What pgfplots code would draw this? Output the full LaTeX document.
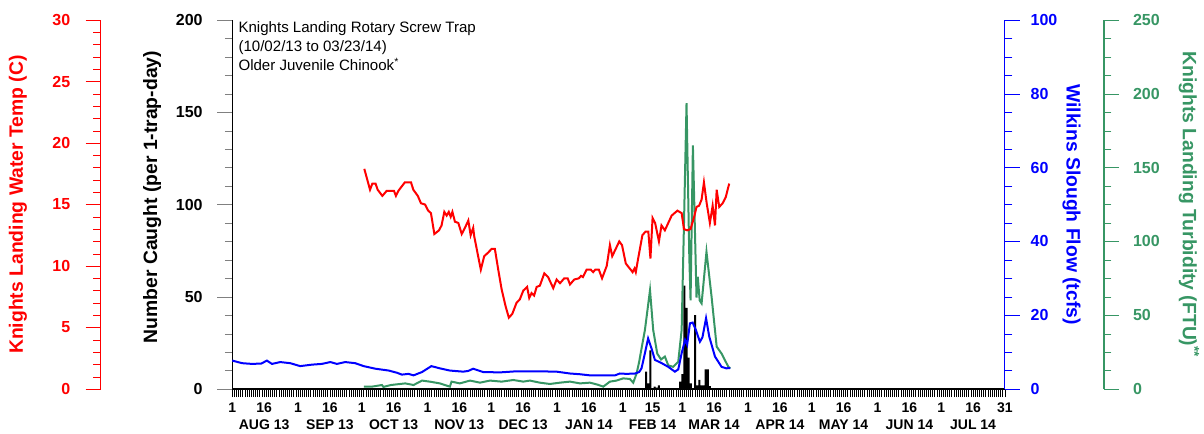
\documentclass[border=0pt]{standalone}
\usepackage{fontspec}
\setmainfont{Liberation Sans}
\usepackage{pgfplots}
\pgfplotsset{compat=1.18}
\definecolor{tred}{RGB}{255,0,0}
\definecolor{tblue}{RGB}{0,0,255}
\definecolor{tgreen}{RGB}{55,150,100}
\newcommand{\tickfont}{\fontsize{12}{14}\selectfont\bfseries}
\newcommand{\labfont}{\fontsize{14.5}{17}\selectfont\bfseries}
\begin{document}
\begin{tikzpicture}
\useasboundingbox (0,0) rectangle (903pt,324.75pt);
\pgfplotsset{
  common/.style={scale only axis, width=579.5pt, height=276.75pt,
    xmin=0, xmax=364, at={(174.2pt,33pt)}, anchor=south west,
    /pgf/number format/assume math mode=true, clip=false,
    tick align=outside, axis line style={-, line width=0.8pt},
    major tick length=11.25pt, minor tick length=5.5pt},
  scaleaxis/.style={scale only axis, width=1pt, height=276.75pt,
    xmin=0, xmax=1, hide x axis,
    /pgf/number format/assume math mode=true,
    tick align=outside, axis line style={-, line width=0.8pt},
    major tick length=11.25pt, minor tick length=5.5pt},
}
% x axis with bars
\begin{axis}[common, ymin=0, ymax=200, hide y axis, axis x line*=bottom,
  major tick length=6pt, minor tick length=6pt,
  xtick={0,15,31,46,61,76,92,107,122,137,153,168,184,198,212,227,243,258,273,288,304,319,334,349,364},
  xticklabels={1,{16\\AUG 13},1,{16\\SEP 13},1,{16\\OCT 13},1,{16\\NOV 13},1,{16\\DEC 13},1,{16\\JAN 14},1,{15\\FEB 14},1,{16\\MAR 14},1,{16\\APR 14},1,{16\\MAY 14},1,{16\\JUN 14},1,{16\\JUL 14},31},
  minor xtick={0,1,...,364},
  xticklabel style={align=center, anchor=north, font=\fontsize{10.5}{12.75}\selectfont\bfseries, yshift=-3pt, inner ysep=1pt},
  tick style={black, line width=0.6pt}]
\addplot[ybar, bar width=1.5pt, fill=black, draw=none] coordinates {
(195,9.4)(196,3)(197,21)(199,1.3)(200,0.8)(201,2)
(211,4)(212,8)(213,56)(214,44)(215,17)(216,3)(218,40)(219,2)(220,5)(221,2)(222,2)(223,10.7)(224,10.7)(225,1.5)};
\end{axis}
% black count axis
\begin{axis}[common, ymin=0, ymax=200, hide x axis, axis y line*=left,
  ytick={0,50,...,200}, minor ytick={0,10,...,200},
  yticklabel style={font=\tickfont, black, xshift=-7.5pt},
  ylabel={Number Caught (per 1-trap-day)},
  ylabel style={at={(rel axis cs:0,0.52)}, anchor=center, yshift=60pt, font=\labfont}]
\end{axis}
% green turbidity data
\begin{axis}[common, ymin=0, ymax=250, hide axis]
\addplot[tgreen, line width=1.5pt] coordinates {
(62,1.6)(65.8,1.6)(70.5,2.7)(71.2,1.4)(74.7,2.7)(81.5,3.8)(85.4,2.7)(89.4,5.7)(93,5.0)(97.8,3.8)(102.5,1.6)(103.3,5.0)(107.2,3.8)(112,5.7)(116.7,4.3)(121.4,5.7)(126.9,5.0)(132.4,6.1)(137.1,5.0)(140.2,5.7)(144.9,4.3)(149.6,3.4)(154.4,4.3)(159.1,5.0)(163.8,3.8)(168.5,4.3)(172,3)(174.8,1.6)(177.9,5.0)(181,5.7)(184.2,7.2)(187.3,6.8)(188.9,4.3)(190.5,10.6)(191.7,18.5)(192.5,25)(194.4,40)(196.8,67)(198.3,40)(200.2,24)(202,20)(203.8,22)(205.4,16)(207.7,15)(210.1,18.5)(211.7,40)(212.8,112)(214,193.6)(215.3,90)(215.9,60)(217,165)(218,105)(218.7,62)(219.3,76)(220.2,60)(221.1,58)(223.4,93)(225.8,62.5)(228.2,28.7)(230.5,24)(233.7,15)(234.6,14)};
\end{axis}
% blue flow axis + data
\begin{axis}[common, ymin=0, ymax=100, hide x axis, axis y line*=right,
  axis line style={tblue}, tick style={tblue},
  ytick={0,20,...,100}, minor ytick={0,5,...,100},
  yticklabel style={font=\tickfont, text=tblue, xshift=4.5pt},
  ylabel={Wilkins Slough Flow (tcfs)},
  ylabel style={at={(rel axis cs:1,0.5)}, anchor=center, rotate=180, yshift=50pt, font=\labfont, text=tblue}]
\addplot[tblue, line width=1.5pt] coordinates {
(0,7.7)(4.6,7.0)(9.3,6.8)(13.7,6.9)(16.3,7.7)(18.7,6.8)(22.6,7.3)(27.3,7.0)(32,6.2)(37.5,6.6)(42.2,6.8)(46.2,7.3)(49.3,6.8)(53.2,7.3)(57.9,7.0)(61.9,6.2)(67.4,5.5)(73.7,5.0)(77.6,4.4)(79.9,3.9)(83,4.1)(85.4,3.7)(89.4,4.6)(93.8,6.2)(97.8,5.6)(102.5,5.0)(108.8,4.7)(111.2,4.9)(113.5,5.5)(118.2,4.6)(126.1,4.5)(133.9,4.8)(143.4,4.8)(152.8,4.7)(159.1,4.2)(163.8,4.0)(168.5,3.7)(174.8,3.7)(180.3,3.7)(182.6,4.2)(185.8,4.1)(189.7,4.2)(191.7,4.6)(192.8,5.6)(194.4,9.7)(195.9,13.7)(197.5,11)(199.1,7.9)(202.3,7.0)(205.4,6.0)(208.5,4.7)(210.1,5.3)(211.7,9.7)(213.3,13.3)(214.3,12)(215.6,17.8)(216.9,18)(218.4,16)(220.3,12.8)(221.5,14)(223.2,19.2)(224.7,14.2)(227.4,8.8)(230.5,6.0)(232.8,5.6)(234.6,5.7)};
\end{axis}
% red temp data
\begin{axis}[common, ymin=0, ymax=30, hide axis]
\addplot[tred, line width=1.5pt] coordinates {
(62.2,17.9)(64.9,16.2)(66,16.7)(67.5,16.7)(68.5,16.2)(70.7,15.7)(72.7,16.1)(76.2,16.1)(77.1,15.7)(78.2,16.1)(81.3,16.8)(84.2,16.8)(85.3,16.2)(87.4,15.7)(88.9,15.1)(90.8,15.0)(92.3,14.5)(93.6,14.3)(95.2,12.6)(97.4,12.9)(98.6,13.3)(99.9,14.4)(101,14.1)(102,14.4)(102.9,14.0)(103.7,14.4)(104.9,13.6)(106.5,13.5)(108.1,12.6)(109.6,13.1)(111.2,13.7)(112.3,12.5)(113.5,13.1)(114,12.4)(115.6,11.0)(117.1,9.7)(118.7,10.8)(120.6,11.1)(122.2,11.4)(123.7,11.4)(125.3,9.7)(126.9,8.1)(128.8,6.7)(130.3,5.8)(131.9,6.1)(133.9,7.0)(135.5,7.3)(137.1,8.0)(138.9,8.3)(139.9,7.4)(141,7.8)(142.2,7.6)(143.4,8.3)(144.9,8.4)(147,9.4)(148.8,9.1)(151.2,8.2)(152.8,8.9)(154.4,8.6)(156.4,9.0)(158,9.0)(159.1,8.5)(161.1,8.9)(163.3,9.0)(164.3,9.2)(165.2,9.1)(166.9,9.7)(168.9,9.7)(170,9.5)(171,9.7)(172.7,9.7)(174.2,9.0)(176.4,10.0)(177.9,11.7)(179,10.8)(180.4,11.3)(182.3,12.0)(183.6,11.7)(185.4,10.2)(187.7,9.7)(188.6,9.5)(189.5,9.8)(190.1,9.5)(191.2,10.6)(193.2,12.5)(194.7,12.8)(196,12.8)(197,10.6)(198,13.9)(199.2,13.5)(201,12.0)(202.2,13.3)(203.8,12.9)(207,14.1)(209.7,14.5)(211.7,14.3)(212.8,13.0)(214.3,12.9)(215.9,13.0)(217.6,14.0)(218.7,14.8)(219.9,14.9)(221.1,15.4)(222.2,16.8)(223.5,15.1)(225,13.5)(226.3,14.9)(227.4,13.3)(228.2,16.2)(229.4,14.8)(231,15.1)(232.5,15.6)(234.1,16.7)};
\node[anchor=north west, align=left, font=\fontsize{11.3}{14.25}\selectfont, inner sep=0pt] at (rel axis cs:0,1) [xshift=4.5pt, yshift=-1pt] {Knights Landing Rotary Screw Trap\\(10/02/13 to 03/23/14)\\Older Juvenile Chinook\textsuperscript{*}};
\end{axis}
% red scale axis
\begin{axis}[scaleaxis, at={(75.5pt,33pt)}, anchor=south west, ymin=0, ymax=30,
  axis y line*=left, axis line style={tred}, tick style={tred},
  ytick={0,5,...,30}, minor ytick={0,1,...,30},
  yticklabel style={font=\tickfont, text=tred, xshift=-8pt},
  ylabel={Knights Landing Water Temp (C)},
  ylabel style={at={(rel axis cs:0,0.5)}, anchor=center, yshift=62pt, font=\labfont, text=tred}]
\end{axis}
% green scale axis
\begin{axis}[scaleaxis, at={(828pt,33pt)}, anchor=south east, ymin=0, ymax=250,
  axis y line*=right, axis line style={tgreen}, tick style={tgreen},
  ytick={0,50,...,250}, minor ytick={0,12.5,...,250},
  yticklabel style={font=\tickfont, text=tgreen, xshift=7pt},
  ylabel={Knights Landing Turbidity (FTU)\textsuperscript{**}},
  ylabel style={at={(rel axis cs:1,0.5)}, anchor=center, rotate=180, yshift=63.75pt, font=\labfont, text=tgreen}]
\end{axis}
\end{tikzpicture}
\end{document}
